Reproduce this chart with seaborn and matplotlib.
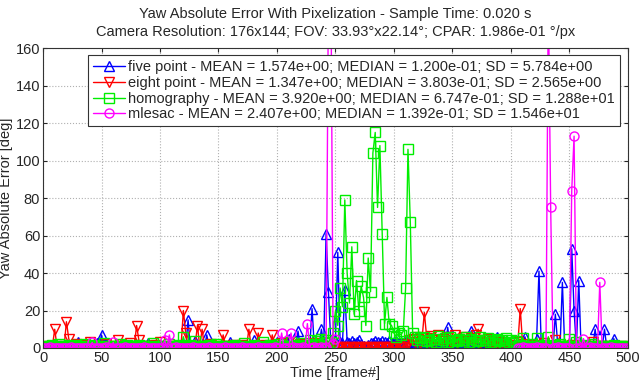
import numpy as np
import pandas as pd
import matplotlib
matplotlib.use("Agg")
import matplotlib.pyplot as plt
import seaborn as sns

nan = np.nan

# frame numbers (every 2nd frame)
frames = list(range(0, 500, 2))

five_point = [
    0.1, 0.2, 0.1, 0.3, 0.1, 2.0, 0.2, 0.1, 0.4, 0.1,
    0.2, 0.1, 0.3, 0.1, 0.2, 3.0, 0.1, 0.2, 0.1, 0.3,
    0.1, 0.4, 0.2, 2.5, 0.1, 7.0, 0.3, 0.1, 0.2, 0.1,
    0.2, 0.1, 0.3, 0.1, 0.2, 1.8, 0.1, 0.2, 0.1, 0.3,
    0.1, 0.2, 0.1, 0.4, 0.1, 2.6, 0.2, 0.1, 0.3, 0.1,
    0.2, 0.1, 0.3, 0.1, 0.2, 0.1, 0.4, 0.1, 0.2, 0.1,
    0.3, 0.1, 15.0, 0.2, 0.1, 3.5, 0.2, 0.1, 0.3, 0.1,
    7.0, 0.2, 0.1, 0.3, 0.1, 0.2, 0.1, 0.4, 0.1, 0.2,
    3.0, 0.1, 0.2, 0.1, 0.3, 0.1, 0.2, 0.1, 0.4, 0.1,
    4.0, 0.2, 0.1, 0.3, 0.1, 0.2, 0.1, 0.2, 0.1, 0.3,
    3.0, 0.1, 0.2, 0.1, 0.3, 5.0, 0.2, 0.1, 0.2, 9.0,
    0.1, 0.3, 0.2, 0.1, 0.4, 21.0, 0.2, 0.3, 1.5, 10.0,
    2.0, 61.0, 30.0, 3.5, 2.8, 4.0, 51.0, 3.0, 2.5, 31.0,
    3.2, 2.6, 3.8, 2.4, 3.0, 4.2, 2.2, 1.2, 0.3, 1.5,
    2.4, 2.6, 3.8, 3.0, 2.4, 3.6, 3.2, 2.8, 3.5, 2.6,
    3.0, 3.8, 2.4, 3.4, 2.8, 3.6, 3.2, 2.6, 1.0, 0.8,
    0.5, 1.2, 0.4, 3.0, 5.0, 0.6, 0.3, 2.0, 0.5, 0.4,
    0.3, 0.6, 0.2, 11.0, 0.4, 0.2, 0.5, 0.3, 0.1, 0.4,
    0.2, 0.3, 0.1, 9.0, 0.2, 0.4, 0.1, 0.3, 0.2, 0.1,
    0.3, 0.2, 0.1, 0.4, 6.0, 0.2, 0.1, 0.3, 0.2, 0.1,
    0.2, 0.1, 0.3, 0.2, 0.1, 0.4, 6.0, 0.2, 0.1, 0.3,
    0.2, 5.0, 41.0, 0.3, 0.1, 0.2, 0.4, 0.2, 0.1, 18.0,
    2.0, 0.3, 35.0, 0.2, 0.4, 1.0, 53.0, 20.0, 0.3, 36.0,
    0.2, 0.1, 0.3, 0.2, 0.1, 0.4, 10.0, 0.1, 0.3, 0.2,
    10.0, 0.1, 0.3, 0.2, 5.0, 0.1, 0.2, 0.3, 0.1, 0.2,
]

eight_point = [
    0.3, 0.5, 1.2, 0.4, 0.8, 10.0, 0.6, 0.3, 1.0, 0.5,
    14.0, 5.0, 0.8, 0.4, 2.0, 0.6, 0.3, 1.5, 0.4, 0.7,
    3.0, 0.5, 0.9, 0.3, 1.2, 0.4, 0.6, 2.2, 0.5, 0.3,
    0.8, 0.4, 4.0, 0.6, 1.0, 0.3, 0.5, 2.5, 0.4, 0.7,
    12.0, 4.0, 0.6, 0.3, 1.1, 0.5, 0.8, 0.4, 1.6, 0.3,
    3.0, 0.5, 0.7, 0.4, 1.3, 0.3, 0.9, 0.5, 0.4, 1.0,
    20.0, 8.0, 0.5, 0.8, 0.4, 1.2, 12.0, 0.6, 10.0, 0.5,
    0.9, 0.4, 2.0, 0.3, 0.7, 0.5, 1.0, 7.0, 0.4, 0.8,
    0.5, 1.4, 0.3, 0.9, 0.6, 1.8, 0.4, 0.7, 10.0, 0.5,
    1.0, 0.4, 8.0, 0.6, 0.3, 1.5, 0.5, 0.8, 7.0, 0.4,
    0.9, 0.5, 2.5, 0.3, 0.7, 3.0, 0.6, 0.4, 1.2, 0.5,
    2.0, 0.4, 0.8, 1.5, 0.3, 0.6, 2.8, 0.5, 0.9, 0.4,
    0.6, 1.0, 0.3, 0.5, 0.2, 0.4, 0.3, 0.2, 0.5, 0.3,
    0.2, 0.4, 0.3, 0.2, 0.5, 0.3, 0.2, 0.4, 0.3, 0.2,
    0.4, 0.2, 0.3, 0.5, 0.2, 0.3, 0.4, 0.2, 0.3, 0.5,
    0.3, 0.2, 0.4, 0.3, 0.6, 1.5, 2.0, 4.0, 5.0, 3.0,
    6.0, 2.5, 4.5, 19.0, 5.5, 3.0, 6.5, 2.0, 4.0, 7.0,
    3.5, 5.0, 2.0, 6.0, 3.0, 4.5, 7.0, 2.5, 5.0, 3.5,
    6.0, 2.0, 4.0, 5.5, 3.0, 7.0, 10.0, 2.5, 4.5, 3.0,
    5.0, 2.0, 3.5, 1.5, 4.0, 2.5, 3.0, 1.0, 2.0, 1.5,
    0.8, 1.2, 0.5, 3.0, 21.0, 2.0, 0.6, 1.0, 0.4, 0.8,
    1.5, 0.5, 0.9, 0.4, 2.5, 0.6, 0.3, 1.0, 0.5, 4.0,
    0.7, 0.4, 1.2, 0.5, 0.8, 0.3, 1.6, 0.6, 0.4, 0.9,
    0.5, 1.0, 0.3, 0.7, 1.3, 3.0, 0.4, 0.8, 0.5, 1.1,
    0.6, 0.3, 0.9, 0.5, 1.2, 0.4, 0.7, 0.3, 1.0, 0.5,
]

homography = [
    0.6, 1.2, 0.4, 0.9, 1.5, 0.5, 0.8, 2.0, 0.7, 1.0,
    0.5, 1.4, 0.8, 0.6, 1.8, 0.4, 1.1, 0.7, 2.2, 0.6,
    0.9, 0.5, 1.6, 0.7, 1.2, 0.4, 2.5, 0.8, 0.6, 1.3,
    0.7, 1.0, 0.5, 1.9, 0.8, 0.6, 1.4, 0.5, 1.1, 0.9,
    0.6, 1.7, 0.8, 0.5, 1.2, 0.9, 0.4, 2.8, 0.7, 1.0,
    0.8, 0.5, 1.3, 0.6, 2.0, 0.7, 1.1, 0.5, 1.5, 0.8,
    6.0, 0.9, 0.6, 1.4, 0.7, 3.5, 0.8, 1.2, 0.5, 1.0,
    0.7, 1.5, 0.9, 0.6, 2.2, 0.8, 0.5, 1.3, 0.7, 1.1,
    0.8, 0.6, 1.8, 0.9, 0.5, 1.2, 2.5, 0.7, 1.0, 0.6,
    1.4, 0.8, 0.5, 1.1, 3.0, 0.7, 0.9, 1.6, 0.6, 1.2,
    0.9, 2.0, 0.7, 1.3, 0.6, 1.0, 3.2, 0.8, 1.5, 0.7,
    1.2, 2.8, 0.9, 1.6, 4.0, 1.0, 2.2, 3.5, 1.4, 5.0,
    2.5, 4.5, 3.0, 3.0, 8.0, 20.0, 12.0, 32.0, 22.0, 79.0,
    40.0, 24.0, 54.0, 18.0, 36.0, 20.0, 33.0, 27.0, 12.0, 48.0,
    30.0, 104.0, 115.0, 75.0, 108.0, 61.0, 13.0, 27.0, 13.0, 12.0,
    8.0, 6.0, 8.0, 7.0, 9.0, 32.0, 106.0, 67.0, 8.0, 6.0,
    4.0, 5.5, 2.5, 6.0, 3.5, 4.5, 2.0, 5.0, 3.0, 6.5,
    2.5, 4.0, 5.5, 3.0, 6.0, 2.0, 4.5, 3.5, 5.0, 2.5,
    4.0, 6.0, 3.0, 5.0, 2.5, 4.5, 3.5, 6.0, 2.0, 4.0,
    5.5, 3.0, 4.5, 2.5, 5.0, 3.5, 4.0, 2.0, 5.5, 3.0,
    4.0, 2.5, 3.5, 0.8, 1.5, 5.5, 0.6, 1.2, 0.9, 2.0,
    0.7, 5.5, 1.0, 0.6, 1.8, 0.8, 6.0, 1.1, 0.7, 1.4,
    0.9, 2.0, 0.6, 1.3, 0.8, 5.0, 1.0, 0.7, 3.0, 0.9,
    0.6, 1.5, 0.8, 1.0, 0.5, 2.2, 0.9, 0.7, 1.3, 0.6,
    1.1, 0.7, 0.9, 0.5, 1.6, 0.8, 0.6, 1.2, 0.7, 1.0,
]

mlesac = [
    0.1, 0.2, 0.1, 0.3, 0.1, 0.2, 0.1, 0.1, 0.2, 0.1,
    0.2, 0.1, 0.3, 0.1, 0.1, 0.2, 0.1, 0.2, 0.1, 0.1,
    0.1, 3.0, 0.2, 0.1, 0.1, 0.2, 0.1, 0.3, 0.1, 0.2,
    3.0, 0.1, 0.2, 0.1, 0.1, 0.3, 0.1, 0.2, 0.1, 0.1,
    0.2, 0.1, 0.1, 0.3, 0.1, 0.2, 0.1, 0.1, 0.2, 0.1,
    0.1, 0.2, 4.0, 0.1, 7.0, 0.2, 0.1, 0.3, 0.1, 0.2,
    0.1, 0.1, 0.2, 0.1, 0.3, 0.1, 0.2, 0.1, 0.1, 0.2,
    0.1, 0.3, 0.1, 0.2, 0.1, 0.1, 0.2, 0.1, 0.3, 0.1,
    0.2, 0.1, 0.1, 0.2, 0.1, 0.3, 0.1, 0.2, 0.1, 0.1,
    0.2, 0.1, 0.3, 0.1, 0.2, 0.1, 0.1, 0.2, 0.1, 0.3,
    0.1, 0.2, 8.0, 0.1, 0.2, 0.1, 8.0, 0.3, 0.1, 0.2,
    0.1, 0.3, 0.1, 13.0, 0.2, 0.1, 0.3, 0.2, 0.1, 0.4,
    0.2, 0.5, 190.0, 210.0, 2.0, 5.0, nan, nan, nan, nan,
    nan, nan, nan, nan, nan, nan, nan, nan, nan, nan,
    nan, nan, nan, nan, nan, nan, nan, nan, nan, nan,
    nan, nan, nan, nan, nan, nan, nan, nan, nan, nan,
    nan, nan, nan, nan, nan, nan, nan, nan, nan, nan,
    nan, nan, nan, nan, nan, nan, nan, nan, nan, nan,
    nan, nan, nan, nan, nan, nan, nan, nan, nan, nan,
    nan, nan, nan, nan, nan, nan, nan, nan, nan, nan,
    nan, nan, nan, 0.2, 0.1, 0.3, 0.1, 0.2, 0.1, 0.2,
    0.1, 0.3, 0.1, 0.2, 0.1, 0.2, 190.0, 75.0, 0.1, 0.2,
    0.3, 0.1, 0.2, 0.1, 0.2, 0.1, 84.0, 113.0, 0.2, 0.1,
    0.1, 5.0, 0.2, 0.1, 0.3, 0.1, 0.2, 0.1, 35.0, 0.2,
    0.1, 0.2, 0.1, 0.3, 0.1, 0.2, 0.1, 0.1, 0.2, 0.1,
]

labels = [
    "five point - MEAN = 1.574e+00; MEDIAN = 1.200e-01; SD = 5.784e+00",
    "eight point - MEAN = 1.347e+00; MEDIAN = 3.803e-01; SD = 2.565e+00",
    "homography - MEAN = 3.920e+00; MEDIAN = 6.747e-01; SD = 1.288e+01",
    "mlesac - MEAN = 2.407e+00; MEDIAN = 1.392e-01; SD = 1.546e+01",
]

sns.set_style("ticks")
plt.rcParams["font.family"] = ["Liberation Sans", "DejaVu Sans"]

fig = plt.figure(figsize=(6.42, 3.83), dpi=100)
ax = fig.add_axes([0.067, 0.0914, 0.911, 0.783])

df = pd.DataFrame({
    "frame": frames,
    "five": five_point,
    "eight": eight_point,
    "homo": homography,
    "mlesac": mlesac,
})

styles = [
    ("five", "#0000ff", "^"),
    ("eight", "#ff0000", "v"),
    ("homo", "#00ee00", "s"),
    ("mlesac", "#ff00ff", "o"),
]

handles = []
for (col, color, marker), label in zip(styles, labels):
    data = df[["frame", col]]
    # split at NaN gaps so the line is not bridged
    valid = data[col].notna()
    seg_id = data[col].isna().cumsum()
    first = True
    for _, seg in data[valid].groupby(seg_id[valid]):
        sns.lineplot(
            data=seg, x="frame", y=col, ax=ax, estimator=None, sort=False,
            color=color, marker=marker, markersize=6.5, linewidth=1.0,
            markerfacecolor="none", markeredgecolor=color, markeredgewidth=1.0,
            label=label if first else None, legend=False,
        )
        if first:
            handles.append(ax.lines[-1])
        first = False

ax.set_xlim(0, 500)
ax.set_ylim(0, 160)
ax.set_xticks(range(0, 501, 50))
ax.set_yticks(range(0, 161, 20))
ax.grid(True, color="#b0b0b0", linestyle=":", linewidth=0.8)
ax.tick_params(direction="in", length=3, labelsize=10.5, top=True, right=True, pad=2)
for s in ax.spines.values():
    s.set_visible(True)
    s.set_color("#333333")
    s.set_linewidth(0.8)

ax.set_xlabel("Time [frame#]", fontsize=10.5, labelpad=1)
ax.set_ylabel("Yaw Absolute Error [deg]", fontsize=10.5, labelpad=2)
ax.set_title(
    "Yaw Absolute Error With Pixelization - Sample Time: 0.020 s\n"
    "Camera Resolution: 176x144; FOV: 33.93°x22.14°; CPAR: 1.986e-01 °/px",
    fontsize=10.5, linespacing=1.35, pad=9,
)

leg = ax.legend(
    handles=handles, labels=labels, loc="upper left",
    bbox_to_anchor=(0.077, 0.977), fontsize=10.5, frameon=True, fancybox=False,
    edgecolor="#333333", framealpha=1, handlelength=2.2, handletextpad=0.2,
    labelspacing=0.12, borderpad=0.35, borderaxespad=0,
)
leg.get_frame().set_linewidth(0.8)

fig.savefig("out.png", dpi=100)
